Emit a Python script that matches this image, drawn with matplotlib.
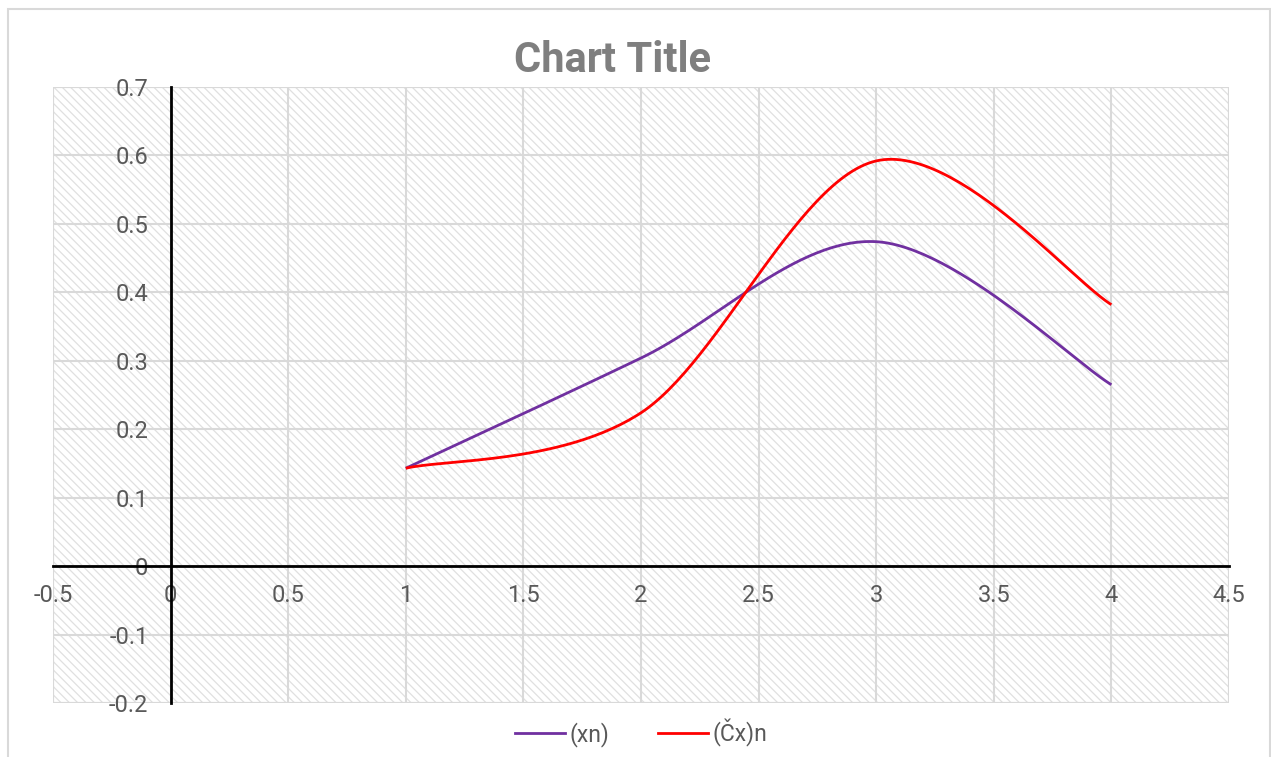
import numpy as np
import matplotlib
matplotlib.use("Agg")
import matplotlib.pyplot as plt
from matplotlib.patches import Rectangle
from matplotlib.lines import Line2D

# Data
x_vals = [1, 2, 3, 4]
xn = [0.143, 0.304, 0.474, 0.265]
cxn = [0.143, 0.224, 0.592, 0.382]
series_names = ["(xn)", "(Čx)n"]
series_colors = ["#7030A0", "#FF0000"]
x_ticks = [-0.5, 0, 0.5, 1, 1.5, 2, 2.5, 3, 3.5, 4, 4.5]
y_ticks = [-0.2, -0.1, 0, 0.1, 0.2, 0.3, 0.4, 0.5, 0.6, 0.7]

plt.rcParams['font.family'] = ['Roboto', 'DejaVu Sans']
plt.rcParams['hatch.color'] = '#e0e0e0'
plt.rcParams['hatch.linewidth'] = 0.9

TXT = '#595959'
GRID = '#d9d9d9'


def smooth(xs, ys, n=60):
    P = np.column_stack([xs, ys]).astype(float)
    pts = np.array([P[0]] + list(P) + [P[-1]])
    out = []
    for i in range(1, len(pts) - 2):
        p0, p1, p2, p3 = pts[i - 1], pts[i], pts[i + 1], pts[i + 2]
        c1 = p1 + (p2 - p0) / 6.0
        c2 = p2 - (p3 - p1) / 6.0
        t = np.linspace(0, 1, n)[:, None]
        b = ((1 - t) ** 3) * p1 + 3 * ((1 - t) ** 2) * t * c1 + 3 * (1 - t) * t ** 2 * c2 + t ** 3 * p2
        out.append(b if i == 1 else b[1:])
    arr = np.vstack(out)
    return arr[:, 0], arr[:, 1]


fig = plt.figure(figsize=(12.71, 7.57), dpi=100)
# chart border (bottom edge falls outside the image)
fig.patches.append(Rectangle((8 / 1271, -10 / 757), 1262 / 1271, 758 / 757, transform=fig.transFigure,
                             fill=False, edgecolor='#d9d9d9', linewidth=1.5))

ax = fig.add_axes([53 / 1271, 1 - 703 / 757, (1229 - 53) / 1271, (703 - 87) / 757])
ax.set_xlim(-0.5, 4.5)
ax.set_ylim(-0.2, 0.7)

# hatched plot area
ax.add_patch(Rectangle((0, 0), 1, 1, transform=ax.transAxes, facecolor='white',
                       hatch='\\\\\\\\', edgecolor='#e0e0e0', linewidth=0, zorder=0))
ax.add_patch(Rectangle((0, 0), 1, 1, transform=ax.transAxes, fill=False,
                       edgecolor=GRID, linewidth=1.5, zorder=1))

for xv in x_ticks:
    ax.axvline(xv, color=GRID, lw=1.5, zorder=1)
for yv in y_ticks:
    ax.axhline(yv, color=GRID, lw=1.5, zorder=1)

for ys, c in zip([xn, cxn], series_colors):
    sx, sy = smooth(x_vals, ys)
    ax.plot(sx, sy, color=c, lw=2.0, zorder=4, solid_capstyle='butt')

ax.spines['top'].set_visible(False)
ax.spines['right'].set_visible(False)
for s in ['left', 'bottom']:
    ax.spines[s].set_position(('data', 0))
    ax.spines[s].set_color('black')
    ax.spines[s].set_linewidth(2)
    ax.spines[s].set_zorder(3)

ax.set_xticks(x_ticks)
ax.set_xticklabels([f"{v:g}" for v in x_ticks])
ax.set_yticks(y_ticks)
ax.set_yticklabels([f"{v:g}" for v in y_ticks])
ax.tick_params(axis='both', length=0, labelsize=17, colors=TXT)
ax.tick_params(axis='x', pad=13)
ax.tick_params(axis='y', pad=16)

fig.text(612.5 / 1271, 1 - 60 / 757, "Chart Title", ha='center', va='center',
         fontsize=30, fontweight='bold', color='#7f7f7f')

handles = [Line2D([0], [0], color=c, lw=2) for c in series_colors]
fig.legend(handles, series_names, loc='center', bbox_to_anchor=(641 / 1271, 1 - 733 / 757),
           ncol=2, frameon=False, fontsize=16.5, labelcolor=TXT, handlelength=2.2,
           handletextpad=0.2, columnspacing=2.1)

fig.savefig("out.png", dpi=100)
